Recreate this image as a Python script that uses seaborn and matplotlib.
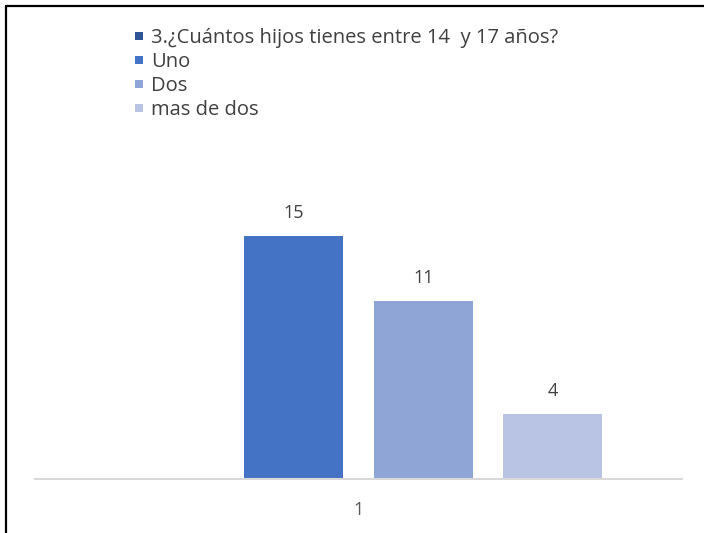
import pandas as pd
import seaborn as sns
import matplotlib.pyplot as plt
from matplotlib.lines import Line2D

sns.set_style("white")
plt.rcParams['font.family'] = ['Open Sans', 'DejaVu Sans']

# data
categoria = ["1", "1", "1", "1"]
series = ["3.¿Cuántos hijos tienes entre 14  y 17 años?", "Uno", "Dos", "mas de dos"]
valores = [0, 15, 11, 4]
colores = ["#2F5597", "#4472C4", "#8FA5D5", "#B9C3E3"]

df = pd.DataFrame({"cat": categoria, "serie": series, "valor": valores})

fig = plt.figure(figsize=(7.04, 5.33), dpi=100)
ax = fig.add_axes([35 / 704, 54 / 533, 647 / 704, 259 / 533])

sns.barplot(
    data=df,
    x="cat",
    y="valor",
    hue="serie",
    hue_order=series,
    palette=colores,
    saturation=1,
    width=0.8,
    gap=0.235,
    linewidth=0,
    errorbar=None,
    legend=True,
    ax=ax,
)

for cont, v in zip(ax.containers, valores):
    ax.bar_label(cont, labels=[str(v) if v else ""], padding=10,
                 fontsize=13, color="#404040", clip_on=False)

ax.set_xlim(-0.5, 0.5)
ax.set_ylim(0, 16)
ax.set_xlabel("")
ax.set_ylabel("")
ax.set_yticks([])
for s in ["top", "right", "left"]:
    ax.spines[s].set_visible(False)
ax.spines["bottom"].set_color("#d9d9d9")
ax.spines["bottom"].set_linewidth(1.5)
ax.tick_params(axis="x", length=0, pad=16, labelsize=13, labelcolor="#595959")

ax.get_legend().remove()
handles = [Line2D([], [], marker="s", linestyle="", markersize=6,
                  markerfacecolor=c, markeredgewidth=0) for c in colores]
fig.legend(
    handles, series,
    loc="upper left",
    bbox_to_anchor=(125 / 704, 1 - 20 / 533),
    frameon=False,
    fontsize=14.5,
    labelcolor="#404040",
    handlelength=0.55,
    handletextpad=0.35,
    labelspacing=0.2,
    borderaxespad=0,
)

# black border on top and left edges
fig.add_artist(Line2D([6 / 704, 1], [1 - 6 / 533, 1 - 6 / 533],
                      transform=fig.transFigure, color="black", linewidth=1.6))
fig.add_artist(Line2D([6 / 704, 6 / 704], [0, 1 - 6 / 533],
                      transform=fig.transFigure, color="black", linewidth=1.6))

plt.savefig("out.png", dpi=100)
